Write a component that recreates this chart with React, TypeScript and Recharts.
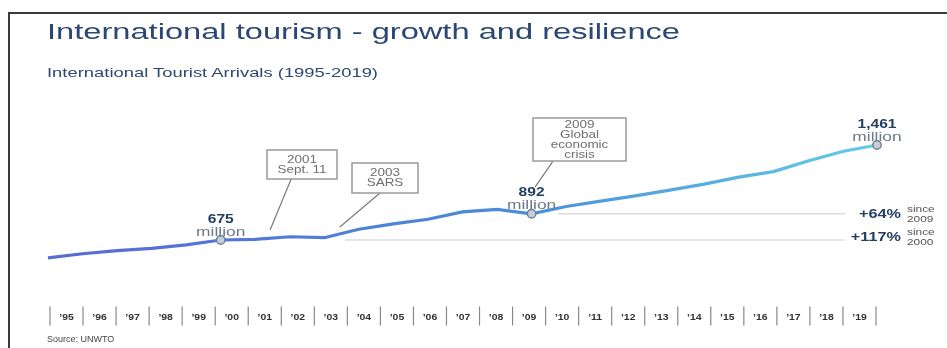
import React from "react";
import {
  LineChart,
  Line,
  XAxis,
  YAxis,
  ReferenceLine,
  ReferenceDot,
} from "recharts";

// International tourist arrivals, millions
const years = [
  1995, 1996, 1997, 1998, 1999, 2000, 2001, 2002, 2003, 2004, 2005, 2006,
  2007, 2008, 2009, 2010, 2011, 2012, 2013, 2014, 2015, 2016, 2017, 2018,
  2019,
];
const arrivals = [
  527, 561, 587, 605, 634, 675, 680, 702, 694, 764, 809, 847, 908, 928, 892,
  952, 997, 1040, 1088, 1137, 1195, 1241, 1329, 1407, 1461,
];
const tickLabels = [
  "’95", "’96", "’97", "’98", "’99", "’00", "’01", "’02", "’03", "’04",
  "’05", "’06", "’07", "’08", "’09", "’10", "’11", "’12", "’13", "’14",
  "’15", "’16", "’17", "’18", "’19",
];

const highlightYears = [2000, 2009, 2019];
const highlightLabels = ["675", "892", "1,461"];

// leader lines from the event boxes down to the curve (year, value)
const leaders = [
  [[2002.04, 1180], [2001.43, 758]],
  [[2004.61, 1064], [2003.45, 782]],
  [[2009.62, 1328], [2009.1, 1113]],
];
// growth baselines
const baselines = [
  { value: 892, from: 2009.77, to: 2018.07 },
  { value: 675, from: 2003.6, to: 2018.07 },
];

const data = years.map((year, i) => ({ year, arrivals: arrivals[i] }));
const tickValues = [...years.map((y) => y - 0.5), ...years, 2019.5].sort(
  (a, b) => a - b
);

const NAVY = "#243f66";
const FONT = "'Liberation Sans', Arial, sans-serif";

function Wide({ x, y, size, weight = 400, fill, anchor = "start", sx = 1.4, children }: any) {
  return (
    <text
      transform={`translate(${x} ${y}) scale(${sx} 1)`}
      x={0}
      y={0}
      fontSize={size}
      fontWeight={weight}
      fill={fill}
      textAnchor={anchor}
      fontFamily={FONT}
    >
      {children}
    </text>
  );
}

function YearTick(props: any) {
  const { x, y, payload } = props;
  const v = payload.value;
  if (Number.isInteger(v)) {
    const i = years.indexOf(v);
    return (
      <Wide x={x} y={y + 10.5} size={9.5} weight={700} fill="#333" anchor="middle" sx={1.1}>
        {tickLabels[i]}
      </Wide>
    );
  }
  return <line x1={x} x2={x} y1={y - 3} y2={y + 16} stroke="#888" strokeWidth={1.2} />;
}

function HighlightLabel(text: string) {
  return (props: any) => {
    const vb = props.viewBox || {};
    const cx = vb.x + vb.width / 2;
    const cy = vb.y + vb.height / 2;
    return (
      <g>
        <Wide x={cx} y={cy - 17.5} size={12} weight={700} fill={NAVY} anchor="middle" sx={1.3}>
          {text}
        </Wide>
        <Wide x={cx} y={cy - 4.5} size={12} fill="#6b7a8a" anchor="middle" sx={1.45}>
          million
        </Wide>
      </g>
    );
  };
}

function EventBox({ x, y, w, h, lines, first }: any) {
  return (
    <g>
      <rect x={x} y={y} width={w} height={h} fill="#fff" stroke="#9a9a9a" strokeWidth={1.5} />
      {lines.map((t: string, i: number) => (
        <Wide key={t} x={x + w / 2} y={first + i * 10} size={10} fill="#6e6e6e" anchor="middle" sx={1.35}>
          {t}
        </Wide>
      ))}
    </g>
  );
}

export default function App() {
  return (
    <div style={{ position: "relative", width: 931, height: 340 }}>
      <div
        style={{
          position: "fixed",
          left: 8,
          top: 12,
          right: 0,
          bottom: 0,
          borderTop: "2px solid #3a3a3a",
          borderLeft: "2px solid #3a3a3a",
        }}
      />
      <LineChart
        width={931}
        height={340}
        data={data}
        margin={{ top: 120.2, right: 62, bottom: 8.5, left: 40 }}
        style={{ position: "absolute", left: 0, top: 0 }}
      >
        <defs>
          <linearGradient id="lineGrad" x1="0" y1="0" x2="1" y2="0">
            <stop offset="0%" stopColor="#5a69d6" />
            <stop offset="55%" stopColor="#4b8bd9" />
            <stop offset="100%" stopColor="#61cde9" />
          </linearGradient>
        </defs>
        <XAxis xAxisId="yr" dataKey="year" type="number" domain={[1995, 2019]} hide />
        <XAxis
          xAxisId="tk"
          dataKey="year"
          type="number"
          domain={[1994.5, 2019.5]}
          ticks={tickValues}
          interval={0}
          padding={{ left: 2, right: 1 }}
          height={30}
          axisLine={false}
          tickLine={false}
          tickSize={0}
          tickMargin={0}
          tick={<YearTick />}
        />
        <YAxis domain={[100, 1600]} hide />
        {baselines.map((b) => (
          <ReferenceLine
            key={b.value}
            xAxisId="yr"
            segment={[
              { x: b.from, y: b.value },
              { x: b.to, y: b.value },
            ]}
            stroke="#dcdcdc"
            strokeWidth={1.5}
          />
        ))}
        {leaders.map((l, i) => (
          <ReferenceLine
            key={i}
            xAxisId="yr"
            segment={[
              { x: l[0][0], y: l[0][1] },
              { x: l[1][0], y: l[1][1] },
            ]}
            stroke="#7a7a7a"
            strokeWidth={1.2}
          />
        ))}
        <Line
          xAxisId="yr"
          dataKey="arrivals"
          type="linear"
          stroke="url(#lineGrad)"
          strokeWidth={3.2}
          dot={false}
          isAnimationActive={false}
        />
        {highlightYears.map((yr, i) => (
          <ReferenceDot
            key={yr}
            xAxisId="yr"
            x={yr}
            y={arrivals[years.indexOf(yr)]}
            r={4.2}
            fill="#c6ced8"
            stroke="#6c8094"
            strokeWidth={1.4}
            label={{ content: HighlightLabel(highlightLabels[i]) }}
          />
        ))}
      </LineChart>
      <svg
        width={931}
        height={340}
        style={{ position: "absolute", left: 0, top: 0, pointerEvents: "none" }}
      >
        <text
          x={39}
          y={31}
          fontSize={22}
          fill="#2b4775"
          fontFamily={FONT}
          textLength={633}
          lengthAdjust="spacingAndGlyphs"
        >
          International tourism - growth and resilience
        </text>
        <text
          x={39}
          y={69}
          fontSize={13.5}
          fill="#2b4775"
          fontFamily={FONT}
          textLength={331}
          lengthAdjust="spacingAndGlyphs"
        >
          International Tourist Arrivals (1995-2019)
        </text>
        <EventBox x={259} y={142} w={70} h={29} lines={["2001", "Sept. 11"]} first={155} />
        <EventBox x={344} y={155} w={66} h={30} lines={["2003", "SARS"]} first={168} />
        <EventBox
          x={525}
          y={110}
          w={93}
          h={43}
          lines={["2009", "Global", "economic", "crisis"]}
          first={120}
        />
        <Wide x={893} y={210} size={12.5} weight={700} fill={NAVY} anchor="end" sx={1.3}>
          +64%
        </Wide>
        <Wide x={899} y={203.5} size={9.5} fill="#555" sx={1.25}>since</Wide>
        <Wide x={899} y={213.5} size={9.5} fill="#555" sx={1.25}>2009</Wide>
        <Wide x={893} y={233} size={12.5} weight={700} fill={NAVY} anchor="end" sx={1.3}>
          +117%
        </Wide>
        <Wide x={899} y={227} size={9.5} fill="#555" sx={1.25}>since</Wide>
        <Wide x={899} y={237} size={9.5} fill="#555" sx={1.25}>2000</Wide>
        <text x={39} y={334} fontSize={9} fill="#444" fontFamily={FONT}>
          Source: UNWTO
        </text>
      </svg>
    </div>
  );
}
